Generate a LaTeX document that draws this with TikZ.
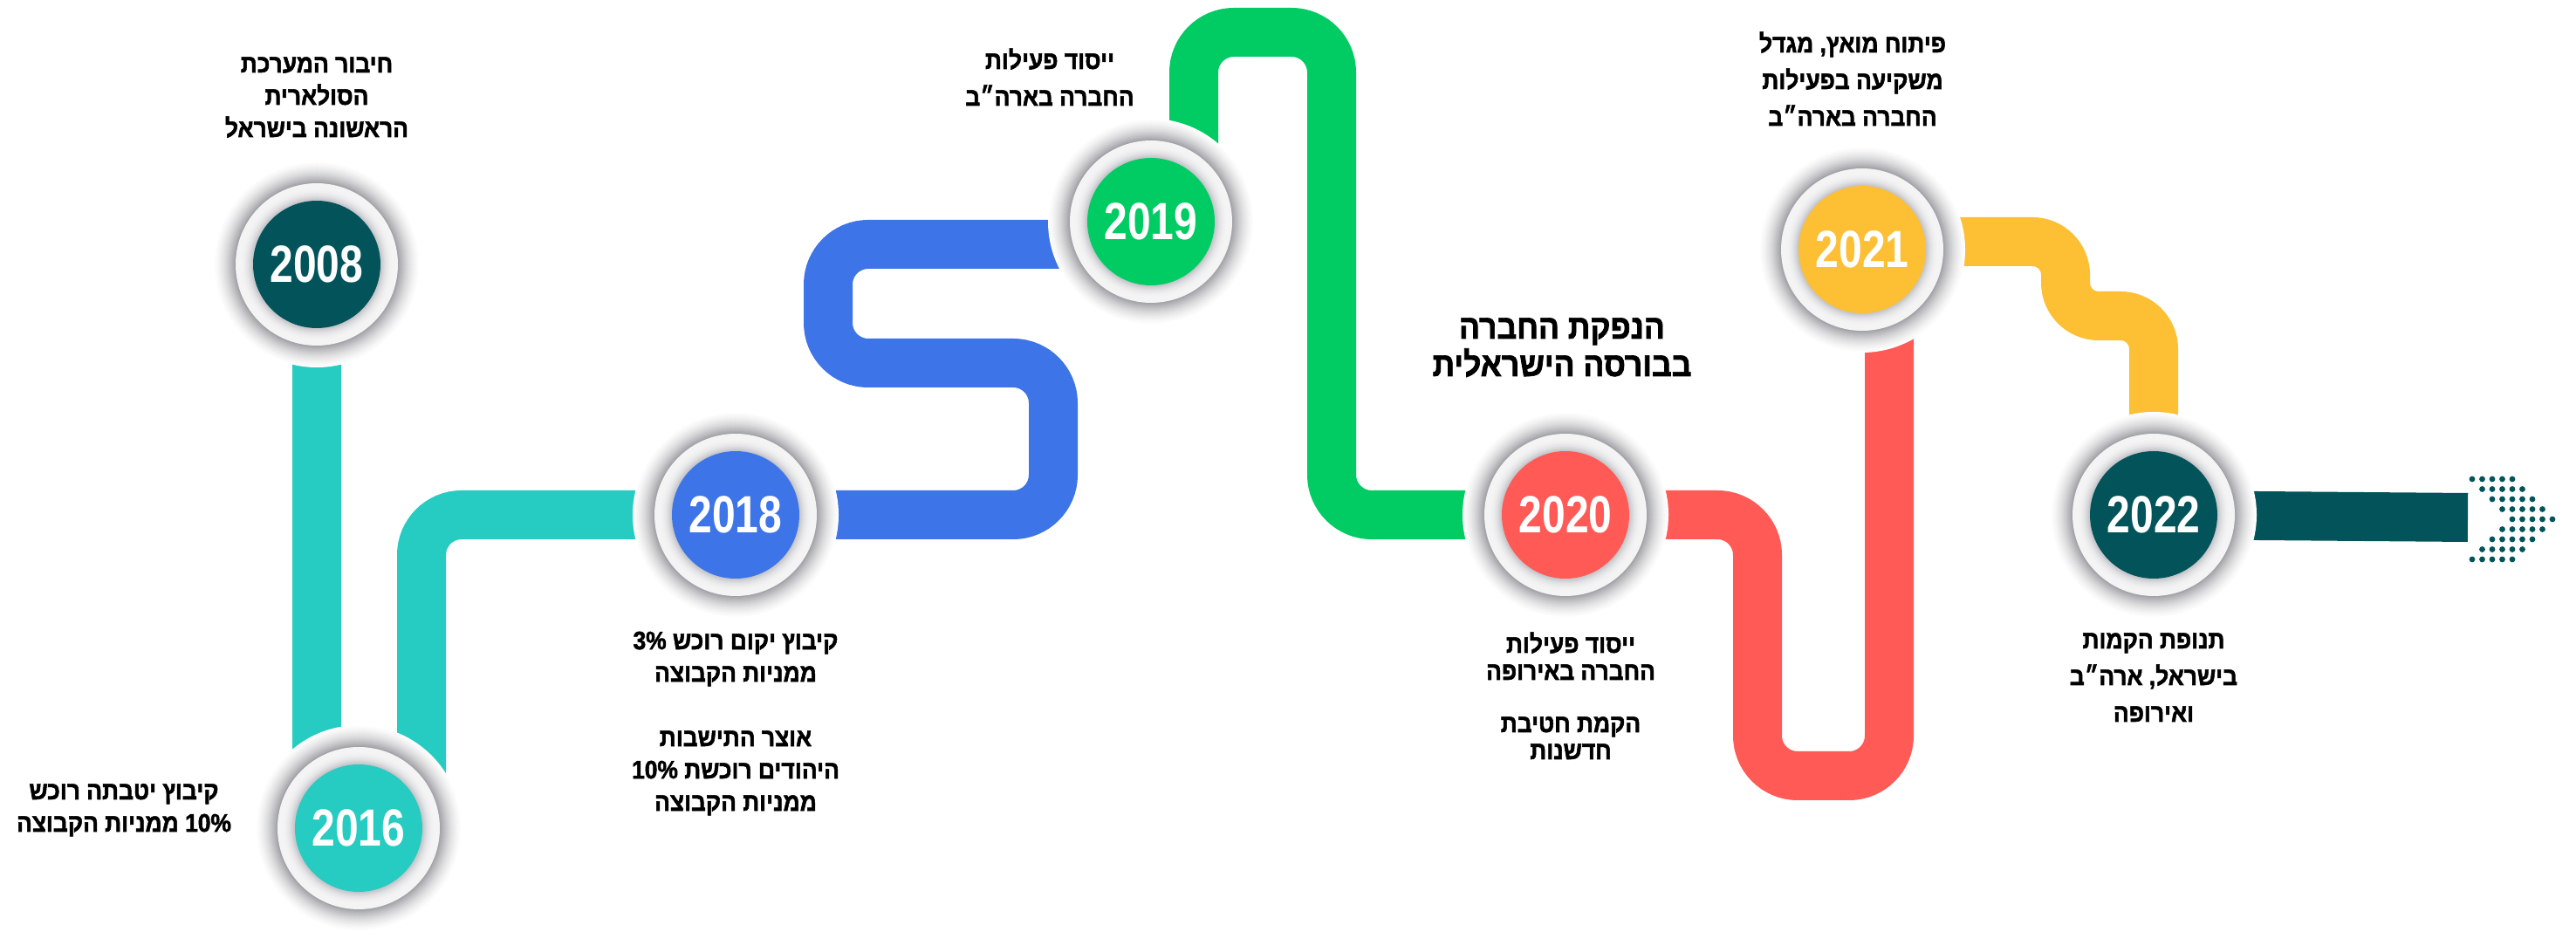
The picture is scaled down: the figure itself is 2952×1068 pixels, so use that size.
\documentclass[tikz,border=0pt]{standalone}
\usepackage{fontspec}
\TeXXeTstate=1
\newfontfamily\hebfont[Script=Hebrew, FakeStretch=0.91, BoldFeatures={FakeBold=1.8}]{Liberation Sans}
\newfontfamily\yearfont{Liberation Sans}
\usetikzlibrary{calc, backgrounds}
\newcommand{\hebln}[1]{\beginR #1\endR}
\newcommand{\numln}[1]{\beginL #1\endL}
\definecolor{tealdark}{HTML}{02545A}
\definecolor{tealline}{HTML}{26CBC1}
\definecolor{bluepath}{HTML}{3D74E8}
\definecolor{greenpath}{HTML}{00CC63}
\definecolor{redpath}{HTML}{FF5A55}
\definecolor{yellowpath}{HTML}{FDBF34}
\definecolor{glowgray}{HTML}{9C9DA1}
\definecolor{ringgray}{HTML}{C4C5C9}
\definecolor{ringlight}{HTML}{F4F4F5}

\begin{document}
\begin{tikzpicture}[x=0.5pt, y=-0.5pt,
    pathline/.style={line width=28pt, rounded corners=23pt},
    yearball/.style={circle, inner sep=0, minimum size=73pt, text=white,
      font=\yearfont\bfseries\fontsize{30pt}{30pt}\selectfont},
    note/.style={align=center, inner sep=0, anchor=base,
      font=\hebfont\bfseries\fontsize{14.5pt}{18.5pt}\selectfont},
    note wide/.style={note, font=\hebfont\bfseries\fontsize{14.5pt}{21pt}\selectfont},
    note tight/.style={note, font=\hebfont\bfseries\fontsize{14.5pt}{15.5pt}\selectfont},
    note title/.style={note, font=\hebfont\bfseries\fontsize{19.5pt}{21.5pt}\selectfont}]
    \useasboundingbox (0,0) rectangle (2952,1068);

    % year balls with their shadow ring
    \foreach \yr/\px/\py/\col in {2008/363/303/tealdark, 2016/411/949/tealline,
        2018/843/590/bluepath, 2019/1319/254/greenpath, 2020/1794/590/redpath,
        2021/2134/286/yellowpath, 2022/2468/590/tealdark} {
      \foreach \k [evaluate=\k as \gl using {100*(\k/25)*(0.4+0.6*\k/25)}] in {0,...,25}
        \fill[glowgray!\gl!white] (\px,\py) circle ({59pt-\k*0.5pt});
      \fill[ringlight] (\px,\py) circle (46.5pt);
      \foreach \k [evaluate=\k as \gl using {100*(\k/14)*(\k/14)}] in {0,...,14}
        \fill[ringgray!\gl!ringlight] (\px,\py) circle ({44pt-\k*0.5pt});
      \node[yearball, fill=\col] (n\yr) at (\px,\py) {\scalebox{0.8}[1]{\yr}};
    }

    \begin{pgfonlayer}{background}
      \fill[white] (0,0) rectangle (2952,1068);
      \draw[pathline, tealline] (n2008.center) |- ($(n2016.center)+(72,0)$) |- (n2018.center);
      \draw[pathline, bluepath] (n2018.center) -| (1207,416) -| (949,280) -- ($(n2019.center)+(0,26)$);
      \draw[pathline, greenpath] ($(n2019.center)+(49,0)$) |- (1526,37) |- (n2020.center);
      \draw[pathline, redpath] (n2020.center) -| (2014,889) -| ($(n2021.center)+(31,0)$);
      \draw[pathline, rounded corners=19pt, yellowpath] ($(n2021.center)+(0,-9)$) -| (2367,362) -| (n2022.center);
      \draw[line width=28pt, tealdark] (n2022.center) -- (2828,593);
    \end{pgfonlayer}

    % dotted arrow head
    \foreach \i in {0,...,8} {
      \pgfmathtruncatemacro\sh{4-abs(\i-4)}
      \foreach \j in {0,...,4}
        \fill[tealdark] ({2833+(\sh+\j)*11.5},{549+\i*11.5}) circle (1.7pt);
    }

    \node[note] (t2008) at (363,157) {\hebln{חיבור המערכת}\\\hebln{הסולארית}\\\hebln{הראשונה בישראל}};
    \node[note] (t2016) at (142,953) {\hebln{קיבוץ יטבתה רוכש}\\\hebln{\numln{10\%} ממניות הקבוצה}};
    \node[note] (t2018) at (843,929) {\hebln{קיבוץ יקום רוכש \numln{3\%}}\\\hebln{ממניות הקבוצה}\\[18.5pt]
      \hebln{אוצר התישבות}\\\hebln{היהודים רוכשת \numln{10\%}}\\\hebln{ממניות הקבוצה}};
    \node[note wide] (t2019) at (1203,121) {\hebln{ייסוד פעילות}\\\hebln{החברה בארה״ב}};
    \node[note title] (t2020a) at (1790,431) {\hebln{הנפקת החברה}\\\hebln{בבורסה הישראלית}};
    \node[note tight] (t2020b) at (1800,870) {\hebln{ייסוד פעילות}\\\hebln{החברה באירופה}\\[14.5pt]
      \hebln{הקמת חטיבת}\\\hebln{חדשנות}};
    \node[note wide] (t2021) at (2123,144) {\hebln{פיתוח מואץ, מגדל}\\\hebln{משקיעה בפעילות}\\\hebln{החברה בארה״ב}};
    \node[note wide] (t2022) at (2468,827) {\hebln{תנופת הקמות}\\\hebln{בישראל, ארה״ב}\\\hebln{ואירופה}};
\end{tikzpicture}
\end{document}
